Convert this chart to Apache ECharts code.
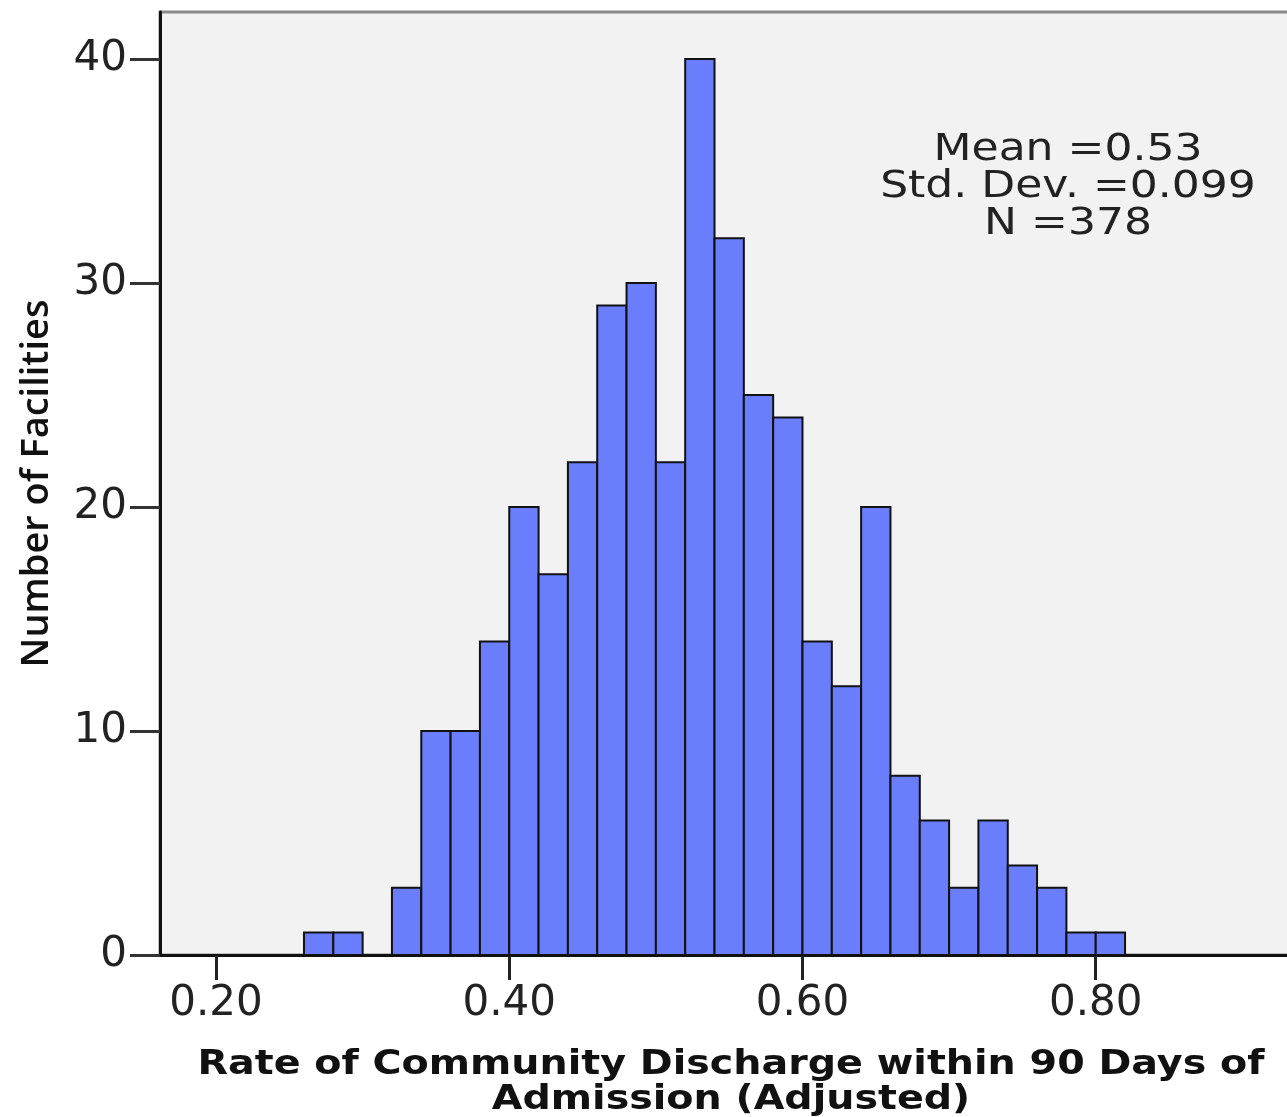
<!DOCTYPE html>
<html>
<head>
<meta charset="utf-8">
<script src="https://cdn.jsdelivr.net/npm/echarts@6/dist/echarts.min.js"></script>
<style>
html,body{margin:0;padding:0;background:#fff;}
#chart{width:1287px;height:1117px;}
</style>
</head>
<body>
<div id="chart"></div>
<script>
// Histogram bins (lower edge of each bin, width 0.02) and counts
const binStarts = [0.26,0.28,0.30,0.32,0.34,0.36,0.38,0.40,0.42,0.44,0.46,0.48,0.50,0.52,0.54,0.56,0.58,0.60,0.62,0.64,0.66,0.68,0.70,0.72,0.74,0.76,0.78,0.80];
const counts    = [1,   1,   0,   3,   10,  10,  14,  20,  17,  22,  29,  30,  22,  40,  32,  25,  24,  14,  12,  20,  8,   6,   3,   6,   4,   3,   1,   1];
const binWidth = 0.02;
const xTicks = [0.20, 0.40, 0.60, 0.80];
const yTicks = [0, 10, 20, 30, 40];
const statsLines = ['Mean =0.53', 'Std. Dev. =0.099', 'N =378'];
const xTitleLines = ['Rate of Community Discharge within 90 Days of', 'Admission (Adjusted)'];
const yTitle = 'Number of Facilities';

const data = binStarts.map((s, i) => [s, s + binWidth, counts[i]]);

const chart = echarts.init(document.getElementById('chart'), null, {renderer: 'canvas'});
const font = 'DejaVu Sans';
chart.setOption({
  animation: false,
  backgroundColor: '#ffffff',
  grid: {
    left: 160, top: 12, right: -3, bottom: 162,
    containLabel: false, outerBoundsMode: 'none',
    show: true, backgroundColor: '#f2f2f2', borderColor: '#8a8a8a', borderWidth: 3
  },
  xAxis: {
    type: 'value', min: 0.1618, max: 0.9325,
    splitLine: {show: false},
    axisLine: {show: true, onZero: false, lineStyle: {color: '#111', width: 3}},
    axisTick: {show: true, customValues: xTicks, length: 25, lineStyle: {color: '#222', width: 3}},
    axisLabel: {customValues: xTicks, formatter: v => v.toFixed(2), margin: 28,
      fontFamily: font, fontSize: 42, color: '#222'}
  },
  yAxis: {
    type: 'value', min: 0, max: 42.1,
    splitLine: {show: false},
    axisLine: {show: true, lineStyle: {color: '#111', width: 3}},
    axisTick: {show: true, customValues: yTicks, length: 30, lineStyle: {color: '#333', width: 3}},
    axisLabel: {customValues: yTicks, margin: 33, fontFamily: font, fontSize: 42, color: '#222', padding: [4,0,0,0]},
    name: yTitle, nameLocation: 'middle', nameGap: 104, nameRotate: 90,
    nameTextStyle: {fontFamily: 'Open Sans', fontSize: 38, fontWeight: 600, color: '#111'}
  },
  graphic: [{
    type: 'text', x: 1068, y: 187, scaleX: 1.19,
    style: {text: statsLines.join('\n'), align: 'center', verticalAlign: 'middle',
      fontFamily: font, fontSize: 37, lineHeight: 37, fill: '#222'},
    z: 100
  }, {
    type: 'text', x: 731, y: 1083, scaleX: 1.2,
    style: {text: xTitleLines.join('\n'), align: 'center', verticalAlign: 'middle',
      fontFamily: font, fontWeight: 'bold', fontSize: 33, lineHeight: 35, fill: '#111'},
    z: 100
  }],
  series: [{
    type: 'custom',
    data: data,
    encode: {x: [0, 1], y: 2},
    renderItem: function (params, api) {
      const c = api.value(2);
      if (!c) return null;
      const p0 = api.coord([api.value(0), 0]);
      const p1 = api.coord([api.value(1), c]);
      return {
        type: 'rect',
        shape: {x: p0[0], y: p1[1], width: p1[0] - p0[0], height: p0[1] - p1[1]},
        style: {fill: '#6a7efb', stroke: '#111', lineWidth: 2}
      };
    }
  }]
});
</script>
</body>
</html>
